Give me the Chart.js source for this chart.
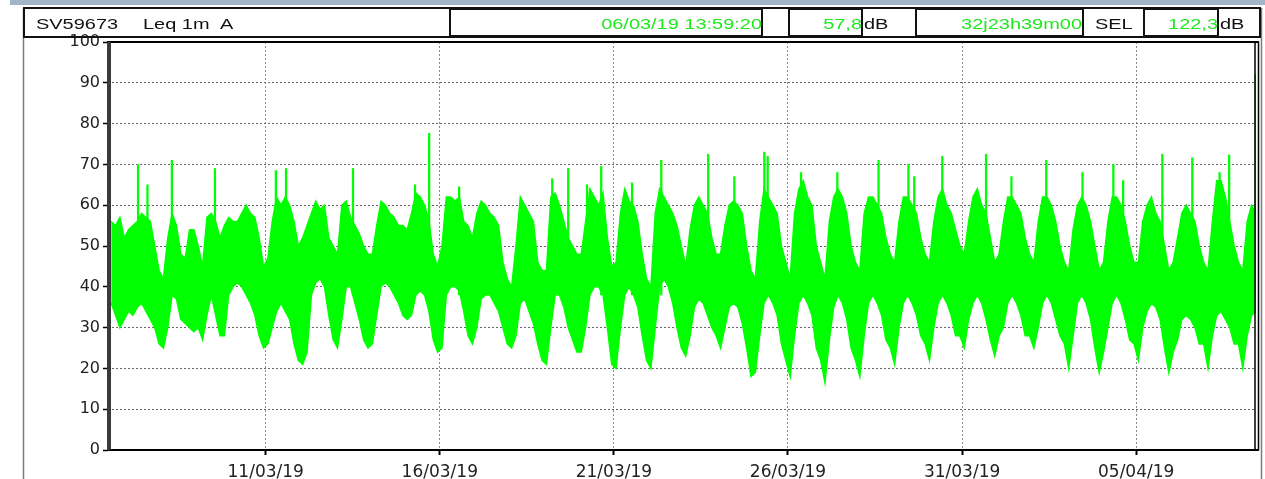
<!DOCTYPE html>
<html><head><meta charset="utf-8">
<script src="https://cdn.jsdelivr.net/npm/chart.js@4/dist/chart.umd.min.js"></script>
<style>html,body{margin:0;padding:0;background:#fff;overflow:hidden}canvas{display:block}</style>
</head><body>
<canvas id="c" width="1265" height="479"></canvas>
<script>
// ---- header texts ----
const instrument = "SV59673";
const measureName = "Leq 1m";
const weighting = "A";
const startStamp = "06/03/19 13:59:20";
const leqValue = "57,8";
const durationText = "32j23h39m00";
const selLabel = "SEL";
const selValue = "122,3";
const unitText = "dB";

// ---- axis ----
const axisStart = "06/03/19 11:18";
const axisEnd = "08/04/19 10:35";
const tickDates = ["11/03/19", "16/03/19", "21/03/19", "26/03/19", "31/03/19", "05/04/19"];
const yTicks = [0, 10, 20, 30, 40, 50, 60, 70, 80, 90, 100];

// ---- data: 3-hour envelope (min / max Leq 1m, dB) from 06/03/19 12:00 ----
const firstBucket = "06/03/19 12:00";
const bucketHours = 3;
const lowLevels = [
  36,33,30,32,
  34,33,35,36,34,32,30,26,
  25,30,38,37,32,31,30,29,
  30,27,33,38,33,28,28,38,
  40,41,40,38,36,33,28,25,
  26,30,34,36,34,32,26,22,
  21,24,38,41,42,40,33,27,
  25,32,40,40,36,32,27,25,
  26,33,40,41,40,38,36,33,
  32,33,38,39,38,34,27,24,
  25,38,40,40,39,34,28,26,
  30,37,38,38,36,34,30,26,
  25,28,36,37,34,31,26,22,
  21,30,38,38,35,30,27,24,
  24,30,38,40,40,38,30,21,
  20,30,38,40,38,35,28,22,
  20,30,40,42,40,36,30,25,
  23,28,35,37,36,33,30,28,
  25,30,35,36,35,31,25,18,
  19,28,36,38,36,33,26,22,
  18,28,36,38,36,33,25,22,
  16.5,27,35,38,36,32,25,22,
  18,28,36,38,36,33,27,25,
  21,30,36,38,36,33,28,26,
  22,30,36,38,36,33,28,28,
  25,32,36,38,36,32,27,23,
  28,30,36,38,36,33,28,28,
  25,30,36,38,36,32,28,26,
  20,28,36,38,36,32,25,19,
  24,30,36,38,36,32,27,26,
  22,30,34,36,35,32,25,19,
  24,27,32,33,32,30,26,26,
  20,28,33,34,32,30,26,26,
  20,28,33,34
];
const highLevels = [
  56,55,57,52,
  54,55,56,58,57,56,50,44,
  42,52,58,55,48,47,54,54,
  50,45,57,58,56,52,55,57,
  56,56,58,60,58,57,52,45,
  47,56,62,60,62,60,56,50,
  52,55,58,61,59,60,52,50,
  48,60,61,57,55,53,50,48,
  48,55,61,60,58,57,55,55,
  54,58,63,62,60,56,48,45,
  50,62,62,61,62,56,55,52,
  58,61,60,58,57,55,46,42,
  40,50,62,60,58,56,46,44,
  44,62,63,60,56,52,50,48,
  48,56,64,62,60,63,52,45,
  46,58,64,61,60,56,48,42,
  40,58,64,62,60,58,55,50,
  45,54,60,62,60,58,52,48,
  48,55,60,61,60,58,50,44,
  42,56,64,62,60,58,50,46,
  42,58,64,66,62,60,50,46,
  42,56,62,64,62,58,50,46,
  44,58,62,62,60,58,52,48,
  46,56,62,62,60,58,52,48,
  46,56,62,64,60,58,54,50,
  48,56,62,64,60,58,52,46,
  48,56,62,62,60,58,52,48,
  46,56,62,62,60,56,50,46,
  44,54,60,62,60,56,50,44,
  46,56,62,62,60,56,50,46,
  46,56,60,62,58,56,50,44,
  46,52,58,60,58,56,50,46,
  44,56,66,66,62,56,50,46,
  44,56,60,58
];

// ---- isolated 1-minute peaks above the envelope ----
const spikeTimes = [
  "06/03/19 12:00", "07/03/19 08:00", "07/03/19 14:30", "08/03/19 07:20", "09/03/19 13:00",
  "11/03/19 07:00", "11/03/19 14:00", "13/03/19 12:10", "15/03/19 06:55", "15/03/19 16:40",
  "16/03/19 13:20", "19/03/19 05:30", "19/03/19 16:30", "20/03/19 05:30", "20/03/19 15:15",
  "21/03/19 12:30", "22/03/19 08:40", "23/03/19 17:00", "24/03/19 11:00", "25/03/19 07:40",
  "25/03/19 10:00", "26/03/19 09:00", "27/03/19 10:00", "28/03/19 14:25", "29/03/19 11:00",
  "29/03/19 15:00", "30/03/19 10:20", "31/03/19 16:30", "01/04/19 10:00", "02/04/19 10:00",
  "03/04/19 11:00", "04/04/19 08:15", "04/04/19 15:00", "05/04/19 18:00", "06/04/19 14:40",
  "07/04/19 09:30", "07/04/19 16:05", "08/04/19 10:20"
];
const spikeLevels = [
  97, 70, 65, 71, 69,
  68.5, 69, 69, 65, 77.6,
  64.5, 66.5, 69, 65, 69.5,
  65.5, 71, 72.5, 67, 73,
  72, 68, 68, 71, 70,
  67, 72, 72.5, 67, 71,
  68, 70, 66, 72.5, 71.6,
  68, 72.3, 92
];

// ---- helpers ----
function toDays(s) {
  const [d, t] = s.split(" ");
  const [dd, mm, yy] = d.split("/").map(Number);
  const [hh, mi] = (t || "00:00").split(":").map(Number);
  return (Date.UTC(2000 + yy, mm - 1, dd, hh, mi) - Date.UTC(2019, 2, 6)) / 86400000;
}
const bucket0 = toDays(firstBucket);
const bucketX = i => bucket0 + (i * bucketHours + bucketHours / 2) / 24;
const lowData = lowLevels.map((v, i) => ({ x: bucketX(i), y: v }));
const highData = highLevels.map((v, i) => ({ x: bucketX(i), y: v }));
const spikeData = spikeTimes.map((t, i) => ({ x: toDays(t), y: [38, spikeLevels[i]] }));

const GREEN = '#00ff00';
const GREEN_TXT = '#1ee81e';
const SX = 1.33;
function stretchText(ctx, text, x, y, align, color) {
  ctx.save();
  ctx.font = '15px "Liberation Sans", Arial, sans-serif';
  ctx.fillStyle = color;
  ctx.textBaseline = 'alphabetic';
  ctx.textAlign = 'left';
  const w = ctx.measureText(text).width * SX;
  const left = align === 'right' ? x - w : x;
  ctx.translate(left, y);
  ctx.scale(SX, 1);
  ctx.fillText(text, 0, 0);
  ctx.restore();
}

const framePlugin = {
  id: 'frame',
  afterDraw(chart) {
    const ctx = chart.ctx;
    const a = chart.chartArea;
    ctx.save();
    ctx.fillStyle = '#a2b5c8';
    ctx.fillRect(10, 0, 1255, 5);
    ctx.strokeStyle = '#7c7c7c';
    ctx.lineWidth = 1.5;
    ctx.beginPath();
    ctx.moveTo(23.5, 8); ctx.lineTo(23.5, 479);
    ctx.moveTo(1261.5, 8); ctx.lineTo(1261.5, 479);
    ctx.stroke();
    ctx.strokeStyle = '#111';
    ctx.lineWidth = 2;
    ctx.strokeRect(24, 8, 1236, 29);
    const boxes = [[450, 312], [789, 73], [916, 167], [1144, 74]];
    boxes.forEach(([x, w]) => ctx.strokeRect(x, 9, w, 27));
    stretchText(ctx, instrument, 36, 29, 'left', '#111');
    stretchText(ctx, measureName, 143, 29, 'left', '#111');
    stretchText(ctx, weighting, 220, 29, 'left', '#111');
    stretchText(ctx, startStamp, 762, 29, 'right', GREEN_TXT);
    stretchText(ctx, leqValue, 862, 29, 'right', GREEN_TXT);
    stretchText(ctx, unitText, 864, 29, 'left', '#111');
    stretchText(ctx, durationText, 1082, 29, 'right', GREEN_TXT);
    stretchText(ctx, selLabel, 1095, 29, 'left', '#111');
    stretchText(ctx, selValue, 1218, 29, 'right', GREEN_TXT);
    stretchText(ctx, unitText, 1220, 29, 'left', '#111');
    ctx.strokeStyle = '#000';
    ctx.lineWidth = 2;
    ctx.beginPath();
    ctx.moveTo(a.left - 1, a.top); ctx.lineTo(a.right + 3, a.top);
    ctx.moveTo(a.left - 1, a.bottom); ctx.lineTo(a.right + 3, a.bottom);
    ctx.stroke();
    ctx.lineWidth = 1.5;
    ctx.beginPath();
    ctx.moveTo(a.right - 1, a.top); ctx.lineTo(a.right - 1, a.bottom);
    ctx.moveTo(a.right + 2.5, a.top); ctx.lineTo(a.right + 2.5, a.bottom);
    ctx.stroke();
    ctx.fillStyle = '#3a3a3a';
    ctx.fillRect(a.left - 1, a.top, 4, a.bottom - a.top);
    ctx.restore();
  }
};

new Chart(document.getElementById('c').getContext('2d'), {
  type: 'line',
  data: {
    datasets: [
      { data: lowData, borderColor: GREEN, borderWidth: 1.5, pointRadius: 0, fill: false, tension: 0 },
      { data: highData, borderColor: GREEN, borderWidth: 1.5, pointRadius: 0, fill: '-1', backgroundColor: GREEN, tension: 0 },
      { type: 'bar', data: spikeData, backgroundColor: GREEN, borderWidth: 0, barThickness: 1.6, grouped: false }
    ]
  },
  options: {
    responsive: false,
    animation: false,
    devicePixelRatio: 1,
    layout: { padding: { top: 42, right: 9, left: 0, bottom: 0 } },
    plugins: { legend: { display: false }, tooltip: { enabled: false } },
    scales: {
      x: {
        type: 'linear',
        offset: false,
        min: toDays(axisStart),
        max: toDays(axisEnd),
        afterBuildTicks: s => { s.ticks = tickDates.map(d => ({ value: toDays(d + " 00:00") })); },
        afterFit: s => { s.height = 29; },
        ticks: {
          autoSkip: false, maxRotation: 0, minRotation: 0, padding: 7, color: '#222',
          font: { family: 'DejaVu Sans', size: 17 },
          callback: (v, i) => tickDates[i]
        },
        grid: { offset: false, color: '#8a8a8a', lineWidth: 1, drawTicks: true, tickLength: 5, tickColor: '#000', tickWidth: 2, tickBorderDash: [] },
        border: { display: false, dash: [2, 2] }
      },
      y: {
        min: 0, max: 100,
        afterBuildTicks: s => { s.ticks = yTicks.map(v => ({ value: v })); },
        afterFit: s => { s.width = 108; },
        ticks: { padding: 3, color: '#222', font: { family: 'DejaVu Sans', size: 16 } },
        grid: { color: '#666', lineWidth: 1, tickLength: 5, tickColor: '#000', tickWidth: 1.5, tickBorderDash: [] },
        border: { display: false, dash: [2, 2] }
      }
    }
  },
  plugins: [framePlugin]
});
</script>
</body></html>
